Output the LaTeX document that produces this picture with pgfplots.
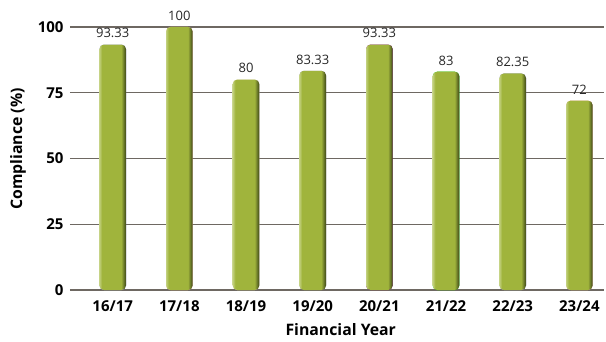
\documentclass[border=0pt]{standalone}
\usepackage{fontspec}
\setmainfont{Open Sans}
\usepackage{pgfplots}
\pgfplotsset{compat=1.18}
\definecolor{barlight}{HTML}{C2D07E}
\definecolor{barmid}{HTML}{A0B43C}
\definecolor{bardark}{HTML}{3E4818}
\definecolor{gridc}{HTML}{6E6862}
\pgfdeclarehorizontalshading{cyl}{100bp}{color(0bp)=(barlight); color(25bp)=(barlight); color(30bp)=(barmid); color(66bp)=(barmid); color(72bp)=(bardark!70!barmid); color(75bp)=(bardark); color(100bp)=(bardark)}
\begin{document}
\begin{tikzpicture}
\begin{axis}[
  scale only axis,
  width=534bp, height=263bp,
  ymin=0, ymax=100,
  xmin=-0.64, xmax=7.37,
  ytick={0,25,50,75,100},
  xtick={0,...,7},
  xticklabels={16/17,17/18,18/19,19/20,20/21,21/22,22/23,23/24},
  ymajorgrids,
  grid style={gridc, line width=1.1pt},
  axis line style={draw=none},
  major tick length=0pt,
  tick label style={font=\bfseries\fontsize{15bp}{17bp}\selectfont},
  yticklabel style={xshift=-3bp},
  xticklabel style={yshift=-7bp},
  /pgf/number format/assume math mode=true,
  xlabel={Financial Year},
  ylabel={Compliance (\%)},
  label style={font=\bfseries\fontsize{15.8bp}{18bp}\selectfont},
  xlabel style={at={(axis description cs:0.507,-0.152)}, anchor=center},
  ylabel style={at={(axis description cs:-0.0974,0.536)}, anchor=center},
  ybar, bar width=0.4, bar shift=0pt,
  nodes near coords,
  point meta=explicit symbolic,
  nodes near coords style={font=\fontsize{13bp}{15bp}\selectfont, text=black!85, yshift=3bp},
  every axis plot/.append style={draw=none, shading=cyl, rounded corners=4.5bp},
  clip=false,
]
\addplot coordinates {(0,93.33) [93.33]};
\addplot coordinates {(1,100) [100]};
\addplot coordinates {(2,80) [80]};
\addplot coordinates {(3,83.33) [83.33]};
\addplot coordinates {(4,93.33) [93.33]};
\addplot coordinates {(5,83) [83]};
\addplot coordinates {(6,82.35) [82.35]};
\addplot coordinates {(7,72) [72]};
\end{axis}
\pgfresetboundingbox
\path (-70bp,-52bp) rectangle (536bp,290bp);
\end{tikzpicture}
\end{document}
